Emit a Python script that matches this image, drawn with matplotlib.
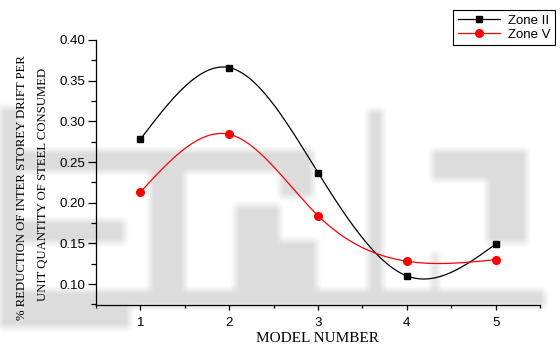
import numpy as np
import matplotlib.pyplot as plt
from matplotlib.ticker import MultipleLocator

# ---------------------------------------------------------
# DATOS
# ---------------------------------------------------------

model_number = [1, 2, 3, 4, 5]
zone_ii = [0.278, 0.366, 0.237, 0.110, 0.149]
zone_v = [0.213, 0.284, 0.184, 0.128, 0.130]


def natural_spline(x, y, num=300):
    # Spline cúbica natural que pasa por todos los puntos
    x = np.asarray(x, dtype=float)
    y = np.asarray(y, dtype=float)
    n = len(x)
    h = np.diff(x)
    a = np.zeros((n, n))
    b = np.zeros(n)
    a[0, 0] = 1.0
    a[-1, -1] = 1.0
    for i in range(1, n - 1):
        a[i, i - 1] = h[i - 1]
        a[i, i] = 2 * (h[i - 1] + h[i])
        a[i, i + 1] = h[i]
        b[i] = 6 * ((y[i + 1] - y[i]) / h[i] - (y[i] - y[i - 1]) / h[i - 1])
    m = np.linalg.solve(a, b)
    xs = np.linspace(x[0], x[-1], num)
    idx = np.clip(np.searchsorted(x, xs) - 1, 0, n - 2)
    x0, x1 = x[idx], x[idx + 1]
    hh = x1 - x0
    t0, t1 = x1 - xs, xs - x0
    ys = (m[idx] * t0**3 + m[idx + 1] * t1**3) / (6 * hh) \
        + (y[idx] / hh - m[idx] * hh / 6) * t0 \
        + (y[idx + 1] / hh - m[idx + 1] * hh / 6) * t1
    return xs, ys


# ---------------------------------------------------------
# FIGURA
# ---------------------------------------------------------

W, H = 560, 347
fig = plt.figure(figsize=(W / 100, H / 100), dpi=100)

# Marca de agua gris difuminada en el fondo
wm_blocks = [
    (0, 150, 280, 172),
    (0, 290, 545, 307),
    (0, 307, 130, 328),
    (0, 107, 20, 290),
    (0, 220, 125, 243),
    (150, 150, 185, 290),
    (235, 205, 280, 290),
    (280, 150, 313, 197),
    (280, 240, 317, 290),
    (368, 110, 383, 290),
    (432, 150, 527, 180),
    (487, 150, 527, 243),
    (432, 253, 438, 290),
]
wm = np.zeros((H, W))
for x0, y0, x1, y1 in wm_blocks:
    wm[y0:y1, x0:x1] = 1.0
k = 9
kern = np.ones(k) / k
wm = np.apply_along_axis(lambda r: np.convolve(r, kern, mode="same"), 1, wm)
wm = np.apply_along_axis(lambda c: np.convolve(c, kern, mode="same"), 0, wm)
bg = fig.add_axes([0, 0, 1, 1], zorder=0)
bg.imshow(1 - 0.14 * wm, cmap="gray", vmin=0, vmax=1, aspect="auto",
          interpolation="bilinear")
bg.axis("off")

ax = fig.add_axes([96 / W, 1 - 305 / H, 444 / W, 265 / H], zorder=1)
ax.set_facecolor("none")

xs, ys = natural_spline(model_number, zone_ii)
ax.plot(xs, ys, color="black", lw=0.9)
ax.plot(model_number, zone_ii, "s", color="black", ms=5)
ax.plot([], [], "-s", color="black", lw=0.9, ms=5, label="Zone II")

xs, ys = natural_spline(model_number, zone_v)
ax.plot(xs, ys, color="red", lw=0.9)
ax.plot(model_number, zone_v, "o", color="red", ms=5.5)
ax.plot([], [], "-o", color="red", lw=0.9, ms=5.5, label="Zone V")

ax.set_xlim(0.5, 5.5)
ax.set_ylim(0.0742, 0.40)
ax.xaxis.set_major_locator(MultipleLocator(1))
ax.xaxis.set_minor_locator(MultipleLocator(0.5))
ax.yaxis.set_minor_locator(MultipleLocator(0.025))
ax.set_yticks(np.arange(0.10, 0.401, 0.05))
ax.set_yticklabels([f"{v:.2f}" for v in np.arange(0.10, 0.401, 0.05)])

for side in ("top", "right"):
    ax.spines[side].set_visible(False)
for side in ("left", "bottom"):
    ax.spines[side].set_linewidth(0.9)

ax.tick_params(axis="y", which="major", direction="out", length=6, width=0.9,
               pad=2, labelsize=9.5)
ax.tick_params(axis="y", which="minor", direction="out", length=3.5, width=0.9)
ax.tick_params(axis="x", which="major", direction="out", length=3.5, width=0.9,
               pad=5, labelsize=9.5)
ax.tick_params(axis="x", which="minor", direction="out", length=2, width=0.9)
for lab in ax.get_xticklabels() + ax.get_yticklabels():
    lab.set_family("Liberation Sans")

# Títulos de los ejes
serif = "Liberation Serif"
fig.text(317 / W, 1 - 339 / H, "MODEL NUMBER", family=serif, fontsize=11,
         ha="center", va="center")
fig.text(22 / W, 1 - 188 / H, "% REDUCTION OF INTER STOREY DRIFT PER",
         family=serif, fontsize=9.2, rotation=90, ha="center", va="center")
fig.text(43 / W, 1 - 184 / H, "UNIT QUANTITY OF STEEL CONSUMED",
         family=serif, fontsize=9.2, rotation=90, ha="center", va="center")

leg = ax.legend(loc="upper right", bbox_to_anchor=(555 / W, 1 - 10 / H),
                bbox_transform=fig.transFigure, borderaxespad=0,
                fancybox=False, edgecolor="black", framealpha=1,
                prop={"family": "Liberation Sans", "size": 9.5},
                handlelength=3.2, handletextpad=0.6, labelspacing=0.12,
                borderpad=0.35)
leg.get_frame().set_linewidth(0.8)

fig.savefig("out.png", dpi=100)
